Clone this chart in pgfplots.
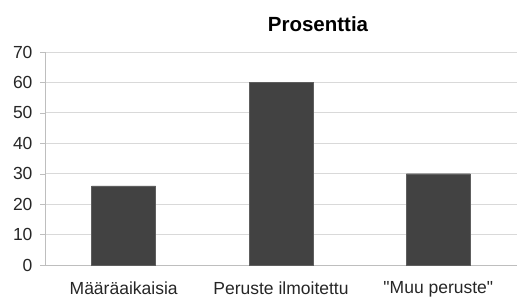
\documentclass[border=0pt]{standalone}
\usepackage{pgfplots}
\pgfplotsset{compat=1.18}
\usepackage{fontspec}
\setmainfont{Liberation Sans}[Ligatures=TeXOff]
\definecolor{barc}{RGB}{66,66,66}
\definecolor{gridc}{RGB}{217,217,217}
\definecolor{axc}{RGB}{190,190,190}
\begin{document}
\begin{tikzpicture}
\useasboundingbox (0,0) rectangle (518bp,298bp);
\begin{axis}[
  at={(45bp,33bp)}, anchor=south west,
  scale only axis, width=472bp, height=213bp,
  xmin=-0.5, xmax=2.5, ymin=0, ymax=70,
  ytick={0,10,...,70},
  xtick={0,1,2},
  xticklabels={{Määräaikaisia},{Peruste ilmoitettu},{"Muu peruste"}},
  extra x ticks={-0.5,0.5,1.5,2.5},
  extra x tick labels={},
  extra x tick style={major tick length=5bp, tick style={draw=axc}},
  major tick length=5bp,
  tick align=outside,
  x tick style={draw=none},
  y tick style={draw=axc},
  axis x line*=bottom, axis y line*=left,
  axis line style={draw=axc, line width=0.8pt, -},
  ymajorgrids, grid style={draw=gridc, line width=0.8pt},
  /pgf/number format/assume math mode=true,
  tick label style={font=\fontsize{17.5bp}{21bp}\selectfont, text=black!85},
  xticklabel style={yshift=-8bp},
  yticklabel style={xshift=-4bp},
  clip=false,
]
\addplot[ybar, bar width=64bp, fill=barc, draw=barc!85!white] coordinates {(0,26) (1,60) (2,30)};
\end{axis}
\node[font=\fontsize{20.5bp}{24bp}\selectfont\bfseries] at (318bp,274bp) {Prosenttia};
\end{tikzpicture}
\end{document}
